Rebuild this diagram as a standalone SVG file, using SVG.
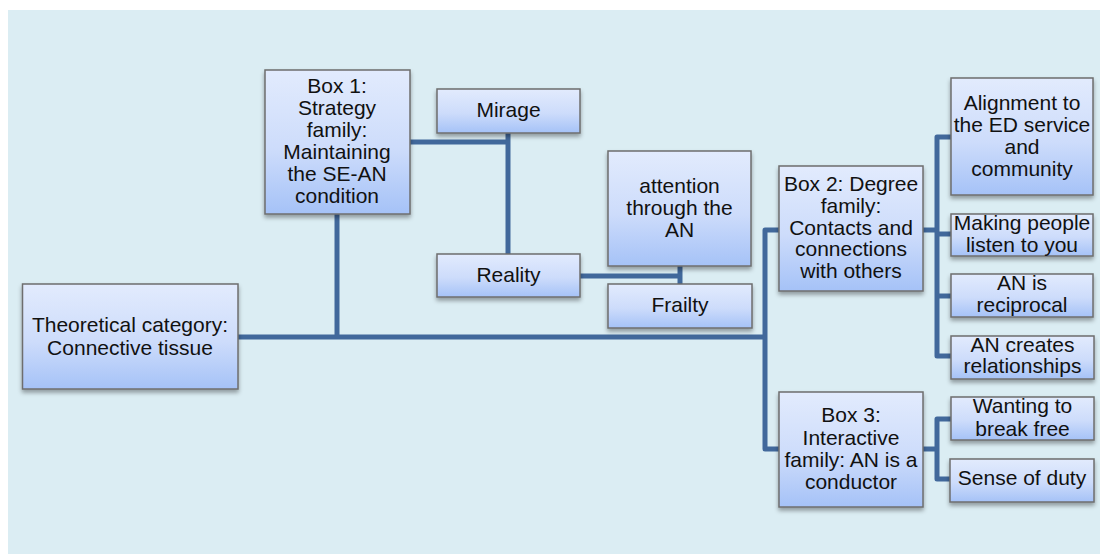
<svg xmlns="http://www.w3.org/2000/svg" width="1100" height="554" viewBox="0 0 1100 554">
  <defs>
    <linearGradient id="boxFill" x1="0" y1="0" x2="0" y2="1">
      <stop offset="0" stop-color="#e2ebfd"/>
      <stop offset="0.55" stop-color="#cddcfb"/>
      <stop offset="1" stop-color="#a5c2f7"/>
    </linearGradient>
    <filter id="shadow" x="-10%" y="-10%" width="120%" height="130%">
      <feDropShadow dx="0" dy="3" stdDeviation="2" flood-color="#000" flood-opacity="0.35"/>
    </filter>
  </defs>
  <style>
    .box { fill: url(#boxFill); stroke: #6e6e6e; stroke-width: 1.5; filter: url(#shadow); }
    .lbl { font-family: "Liberation Sans", Arial, sans-serif; font-size: 21px; fill: #111; text-anchor: middle; }
    .wire { fill: none; stroke: #41689b; stroke-width: 5; stroke-linejoin: round; stroke-linecap: butt; }
  </style>

  <rect x="0" y="0" width="1100" height="554" fill="#ffffff"/>
  <rect x="8" y="10" width="1092" height="544" fill="#dbedf3"/>

  <g id="connectors">
    <!-- trunk from the category to the three families -->
    <path class="wire" d="M238 337 H765"/>
    <path class="wire" d="M337 214 V337"/>
    <path class="wire" d="M779 230 H765 V449 H779"/>
    <!-- Box 1 branches -->
    <path class="wire" d="M410 142 H508"/>
    <path class="wire" d="M508 133 V254"/>
    <path class="wire" d="M580 276 H680"/>
    <path class="wire" d="M680 266 V284"/>
    <!-- Box 2 branches -->
    <path class="wire" d="M923 230 H937"/>
    <path class="wire" d="M951 137 H937 V356 H951"/>
    <path class="wire" d="M937 234 H951"/>
    <path class="wire" d="M937 296 H951"/>
    <!-- Box 3 branches -->
    <path class="wire" d="M923 449 H937"/>
    <path class="wire" d="M951 419 H937 V479 H951"/>
  </g>

  <g id="theoretical-category">
    <rect class="box" x="22.5" y="284" width="215.5" height="105"/>
    <text class="lbl" x="130" y="332">Theoretical category:</text>
    <text class="lbl" x="130" y="355">Connective tissue</text>
  </g>

  <g id="box1">
    <rect class="box" x="265" y="70" width="145" height="144"/>
    <text class="lbl" x="337" y="93">Box 1:</text>
    <text class="lbl" x="337" y="115">Strategy</text>
    <text class="lbl" x="337" y="137">family:</text>
    <text class="lbl" x="337" y="159">Maintaining</text>
    <text class="lbl" x="337" y="181">the SE-AN</text>
    <text class="lbl" x="337" y="203">condition</text>
  </g>

  <g id="mirage">
    <rect class="box" x="437" y="89" width="143" height="44"/>
    <text class="lbl" x="508.5" y="117">Mirage</text>
  </g>

  <g id="attention">
    <rect class="box" x="608" y="151" width="143" height="115"/>
    <text class="lbl" x="679.5" y="193">attention</text>
    <text class="lbl" x="679.5" y="215">through the</text>
    <text class="lbl" x="679.5" y="237">AN</text>
  </g>

  <g id="reality">
    <rect class="box" x="437" y="254" width="143" height="43"/>
    <text class="lbl" x="508.5" y="282">Reality</text>
  </g>

  <g id="frailty">
    <rect class="box" x="608" y="284" width="144" height="44"/>
    <text class="lbl" x="680" y="312">Frailty</text>
  </g>

  <g id="box2">
    <rect class="box" x="779" y="166" width="144" height="125"/>
    <text class="lbl" x="851" y="191">Box 2: Degree</text>
    <text class="lbl" x="851" y="213">family:</text>
    <text class="lbl" x="851" y="235">Contacts and</text>
    <text class="lbl" x="851" y="256">connections</text>
    <text class="lbl" x="851" y="278">with others</text>
  </g>

  <g id="alignment">
    <rect class="box" x="951" y="78" width="142" height="117"/>
    <text class="lbl" x="1022" y="110">Alignment to</text>
    <text class="lbl" x="1022" y="132">the ED service</text>
    <text class="lbl" x="1022" y="154">and</text>
    <text class="lbl" x="1022" y="176">community</text>
  </g>

  <g id="making-people-listen">
    <rect class="box" x="951" y="214" width="142" height="42"/>
    <text class="lbl" x="1022" y="230">Making people</text>
    <text class="lbl" x="1022" y="252">listen to you</text>
  </g>

  <g id="an-reciprocal">
    <rect class="box" x="951" y="274" width="142" height="43"/>
    <text class="lbl" x="1022" y="290">AN is</text>
    <text class="lbl" x="1022" y="312">reciprocal</text>
  </g>

  <g id="an-creates-relationships">
    <rect class="box" x="951" y="336" width="143" height="43"/>
    <text class="lbl" x="1022.5" y="352">AN creates</text>
    <text class="lbl" x="1022.5" y="373">relationships</text>
  </g>

  <g id="box3">
    <rect class="box" x="779" y="392" width="144" height="115"/>
    <text class="lbl" x="851" y="422">Box 3:</text>
    <text class="lbl" x="851" y="445">Interactive</text>
    <text class="lbl" x="851" y="467">family: AN is a</text>
    <text class="lbl" x="851" y="489">conductor</text>
  </g>

  <g id="wanting-to-break-free">
    <rect class="box" x="951" y="397" width="143" height="43"/>
    <text class="lbl" x="1022.5" y="413">Wanting to</text>
    <text class="lbl" x="1022.5" y="436">break free</text>
  </g>

  <g id="sense-of-duty">
    <rect class="box" x="950" y="459" width="144" height="43"/>
    <text class="lbl" x="1022" y="485">Sense of duty</text>
  </g>
</svg>
